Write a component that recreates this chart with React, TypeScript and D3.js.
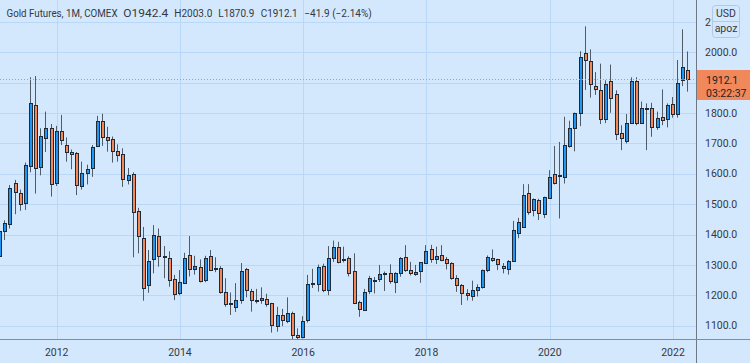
import { useEffect, useRef } from 'react'
import * as d3 from 'd3'

// monthly candles, first one is Feb 2011
const firstMonth = { year: 2011, month: 2 }

const opens = [
  1332, 1413, 1437, 1569, 1538, 1503, 1625, 1827, 1623, 1716, 1752,
  1571, 1741, 1694, 1672, 1667, 1561, 1602, 1618, 1692, 1774, 1720, 1714,
  1676, 1664, 1580, 1598, 1476, 1390, 1234, 1318, 1395, 1329, 1324, 1252,
  1206, 1243, 1331, 1285, 1292, 1252, 1329, 1287, 1291, 1212, 1173, 1160,
  1184, 1285, 1215, 1183, 1185, 1189, 1173, 1099, 1135, 1118, 1143, 1069,
  1063, 1118, 1239, 1236, 1296, 1217, 1324, 1358, 1314, 1322, 1280, 1177,
  1154, 1212, 1251, 1252, 1270, 1272, 1244, 1275, 1327, 1283, 1272, 1278,
  1305, 1351, 1318, 1333, 1318, 1305, 1256, 1234, 1206, 1198, 1217, 1228,
  1285, 1324, 1318, 1296, 1285, 1314, 1405, 1426, 1536, 1479, 1514, 1470,
  1519, 1598, 1594, 1588, 1692, 1750, 1799, 1998, 1971, 1889, 1876, 1780,
  1906, 1862, 1733, 1708, 1766, 1906, 1768, 1816, 1816, 1754, 1786, 1780,
  1829, 1799, 1909, 1942.4,
]
const highs = [
  1420, 1447, 1563, 1580, 1548, 1637, 1918, 1922, 1750, 1805, 1764,
  1758, 1794, 1720, 1680, 1672, 1640, 1630, 1695, 1791, 1798, 1755, 1723,
  1697, 1684, 1619, 1605, 1488, 1425, 1349, 1431, 1420, 1362, 1345, 1267,
  1283, 1340, 1395, 1330, 1318, 1330, 1349, 1325, 1296, 1256, 1209, 1240,
  1306, 1290, 1221, 1221, 1226, 1205, 1175, 1162, 1155, 1193, 1146, 1091,
  1131, 1267, 1287, 1301, 1304, 1362, 1380, 1376, 1360, 1328, 1338, 1182,
  1221, 1264, 1260, 1300, 1278, 1302, 1276, 1326, 1365, 1310, 1300, 1309,
  1365, 1366, 1360, 1365, 1326, 1309, 1266, 1237, 1220, 1248, 1236, 1285,
  1331, 1351, 1320, 1306, 1316, 1445, 1455, 1566, 1566, 1519, 1518, 1525,
  1612, 1692, 1705, 1788, 1775, 1802, 2004, 2086, 2010, 1935, 1963, 1908,
  1960, 1875, 1760, 1797, 1918, 1918, 1838, 1832, 1834, 1805, 1878, 1832,
  1853, 1975, 2076, 2003.0,
]
const lows = [
  1308, 1382, 1420, 1467, 1478, 1481, 1605, 1535, 1595, 1672, 1525,
  1560, 1695, 1640, 1615, 1530, 1548, 1565, 1590, 1688, 1692, 1673, 1637,
  1640, 1557, 1565, 1325, 1338, 1182, 1208, 1272, 1294, 1256, 1228, 1184,
  1200, 1238, 1262, 1268, 1242, 1243, 1280, 1276, 1205, 1162, 1135, 1145,
  1172, 1193, 1146, 1173, 1172, 1162, 1077, 1080, 1098, 1108, 1052, 1050,
  1058, 1110, 1224, 1212, 1210, 1200, 1310, 1305, 1308, 1262, 1171, 1129,
  1148, 1204, 1206, 1244, 1214, 1238, 1207, 1261, 1277, 1265, 1264, 1241,
  1303, 1307, 1303, 1312, 1285, 1251, 1211, 1168, 1183, 1182, 1196, 1222,
  1276, 1310, 1283, 1272, 1268, 1310, 1388, 1424, 1465, 1460, 1448, 1454,
  1518, 1565, 1453, 1568, 1686, 1674, 1757, 1876, 1851, 1860, 1764, 1767,
  1801, 1711, 1678, 1700, 1765, 1760, 1765, 1678, 1722, 1745, 1760, 1753,
  1785, 1785, 1889, 1870.9,
]
const closes = [
  1413, 1439, 1554, 1538, 1503, 1628, 1832, 1621, 1724, 1750, 1569,
  1741, 1711, 1670, 1664, 1563, 1604, 1616, 1687, 1774, 1720, 1711, 1676,
  1662, 1580, 1596, 1473, 1393, 1225, 1314, 1397, 1329, 1325, 1252, 1204,
  1243, 1324, 1285, 1296, 1247, 1324, 1283, 1289, 1212, 1173, 1176, 1184,
  1280, 1215, 1184, 1185, 1190, 1173, 1099, 1135, 1118, 1143, 1069, 1061,
  1116, 1236, 1236, 1292, 1217, 1322, 1360, 1310, 1318, 1274, 1175, 1154,
  1212, 1256, 1249, 1270, 1274, 1244, 1274, 1324, 1285, 1272, 1278, 1309,
  1346, 1318, 1329, 1318, 1305, 1256, 1234, 1206, 1198, 1217, 1226, 1283,
  1327, 1318, 1300, 1289, 1313, 1415, 1440, 1530, 1472, 1516, 1472, 1525,
  1588, 1569, 1597, 1695, 1752, 1799, 1984, 1976, 1895, 1878, 1780, 1895,
  1851, 1729, 1717, 1766, 1906, 1768, 1816, 1818, 1754, 1783, 1777, 1827,
  1796, 1900, 1953, 1912.1,
]

const yearTicks = [2012, 2014, 2016, 2018, 2020, 2022]
const priceTicks = [1100, 1200, 1300, 1400, 1500, 1600, 1700, 1800, 1900, 2000, 2100]

const title = 'Gold Futures, 1M, COMEX'
const change = '\u221241.9 (\u22122.14%)'
const countdown = '03:22:37'
const unitTop = 'USD'
const unitBottom = 'apoz'

const W = 750
const H = 363
const PLOT_R = 697
const PLOT_B = 340
const BADGE = { y: 70, h: 30 }
const UNIT_BOX = { x: 712.5, y: 5.5, w: 27, h: 32 }

const BG = '#d4e8fd'
const GRID = '#b9d8f8'
const UP = '#2196f3'
const DOWN = '#f58756'
const BORDER = '#1f2a36'
const WICK = '#4f5b67'
const TXT = '#333844'
const FONT = 'Roboto, "Noto Sans", sans-serif'

export default function App() {
  const svgRef = useRef<SVGSVGElement>(null)

  useEffect(() => {
    if (!svgRef.current) return
    const svg = d3.select(svgRef.current)
    svg.selectAll('*').remove()

    const candles = opens.map((o, i) => ({
      m: (firstMonth.year - 2012) * 12 + (firstMonth.month - 1) + i,
      o,
      h: highs[i],
      l: lows[i],
      c: closes[i],
    }))
    const last = candles[candles.length - 1]
    const fmt = d3.format('.1f')

    // months since Jan 2012
    const x = d3.scaleLinear().domain([0, 120]).range([56.7, 673])
    const y = d3.scaleLinear().domain([1100, 2000]).range([325.6, 52.4])

    svg.append('rect').attr('width', W).attr('height', H).attr('fill', BG)

    const defs = svg.append('defs')
    defs.append('clipPath').attr('id', 'plot')
      .append('rect').attr('width', PLOT_R).attr('height', PLOT_B)
    // price scale area minus the unit box, which hides the top label
    const sc = defs.append('clipPath').attr('id', 'scale')
    sc.append('rect')
      .attr('x', PLOT_R).attr('y', 0)
      .attr('width', UNIT_BOX.x - PLOT_R).attr('height', UNIT_BOX.y + UNIT_BOX.h)
    sc.append('rect')
      .attr('x', PLOT_R).attr('y', UNIT_BOX.y + UNIT_BOX.h)
      .attr('width', W - PLOT_R).attr('height', PLOT_B - UNIT_BOX.y - UNIT_BOX.h)

    const plot = svg.append('g').attr('clip-path', 'url(#plot)')

    plot.selectAll('.hgrid')
      .data(priceTicks)
      .enter()
      .append('line')
      .attr('x1', 0)
      .attr('x2', PLOT_R)
      .attr('y1', d => Math.round(y(d)) + 0.5)
      .attr('y2', d => Math.round(y(d)) + 0.5)
      .attr('stroke', GRID)

    plot.selectAll('.vgrid')
      .data(yearTicks)
      .enter()
      .append('line')
      .attr('x1', d => Math.round(x((d - 2012) * 12)) + 0.5)
      .attr('x2', d => Math.round(x((d - 2012) * 12)) + 0.5)
      .attr('y1', 0)
      .attr('y2', PLOT_B)
      .attr('stroke', GRID)

    const g = plot.selectAll('.candle')
      .data(candles)
      .enter()
      .append('g')

    g.append('line')
      .attr('x1', d => Math.round(x(d.m)) - 0.5)
      .attr('x2', d => Math.round(x(d.m)) - 0.5)
      .attr('y1', d => y(d.h))
      .attr('y2', d => y(d.l))
      .attr('stroke', WICK)
      .attr('stroke-width', 1)

    g.append('rect')
      .attr('x', d => Math.round(x(d.m)) - 1.5)
      .attr('width', 3)
      .attr('y', d => Math.round(y(Math.max(d.o, d.c))) + 0.5)
      .attr('height', d => Math.max(1, Math.round(Math.abs(y(d.o) - y(d.c)))))
      .attr('fill', d => (d.c >= d.o ? UP : DOWN))
      .attr('stroke', BORDER)
      .attr('stroke-width', 1)

    // last price line
    const py = Math.round(y(last.c)) + 0.5
    plot.append('line')
      .attr('x1', 0)
      .attr('x2', PLOT_R)
      .attr('y1', py)
      .attr('y2', py)
      .attr('stroke', DOWN)
      .attr('stroke-dasharray', '1,2')

    // axis borders
    svg.append('line')
      .attr('x1', PLOT_R - 0.5).attr('x2', PLOT_R - 0.5)
      .attr('y1', 0).attr('y2', H)
      .attr('stroke', '#6f7780')
    svg.append('line')
      .attr('x1', 0).attr('x2', W)
      .attr('y1', PLOT_B - 0.5).attr('y2', PLOT_B - 0.5)
      .attr('stroke', '#858c95')

    // labels under the last-price badge are not drawn
    const visibleTicks = priceTicks.filter(p => {
      const ty = y(p)
      return ty < BADGE.y - 5 || ty > BADGE.y + BADGE.h + 5
    })
    svg.append('g')
      .attr('clip-path', 'url(#scale)')
      .selectAll('text')
      .data(visibleTicks)
      .enter()
      .append('text')
      .attr('x', 705)
      .attr('y', d => y(d))
      .attr('dy', '0.35em')
      .attr('fill', TXT)
      .style('font', `10.5px ${FONT}`)
      .text(d => fmt(d))

    svg.selectAll('.xlabel')
      .data(yearTicks)
      .enter()
      .append('text')
      .attr('x', d => x((d - 2012) * 12))
      .attr('y', 356)
      .attr('text-anchor', 'middle')
      .attr('fill', TXT)
      .style('font', `10.5px ${FONT}`)
      .text(d => String(d))

    // unit box
    const ub = svg.append('g')
    ub.append('rect')
      .attr('x', UNIT_BOX.x).attr('y', UNIT_BOX.y)
      .attr('width', UNIT_BOX.w).attr('height', UNIT_BOX.h)
      .attr('rx', 3)
      .attr('fill', BG)
      .attr('stroke', '#b3c9df')
    ub.append('line')
      .attr('x1', UNIT_BOX.x).attr('x2', UNIT_BOX.x + UNIT_BOX.w)
      .attr('y1', 21.5).attr('y2', 21.5)
      .attr('stroke', '#b3c9df')
    ub.append('text')
      .attr('x', 726).attr('y', 17)
      .attr('text-anchor', 'middle')
      .attr('fill', TXT)
      .style('font', `10.5px ${FONT}`)
      .text(unitTop)
    ub.append('text')
      .attr('x', 726).attr('y', 31.5)
      .attr('text-anchor', 'middle')
      .attr('fill', TXT)
      .style('font', `10.5px ${FONT}`)
      .text(unitBottom)

    // last price badge
    svg.append('rect')
      .attr('x', PLOT_R).attr('y', BADGE.y)
      .attr('width', W - PLOT_R).attr('height', BADGE.h)
      .attr('fill', '#f0885c')
    svg.append('text')
      .attr('x', 706).attr('y', 84)
      .attr('fill', '#222')
      .style('font', `10.5px ${FONT}`)
      .text(fmt(last.c))
    svg.append('text')
      .attr('x', 706).attr('y', 96.5)
      .attr('fill', '#222')
      .style('font', `10.5px ${FONT}`)
      .text(countdown)

    // header
    const parts = [
      { x: 6.5, w: 111, t: title },
      { x: 123.3, w: 45, t: `O${fmt(last.o)}` },
      { x: 174.3, w: 38, t: `H${fmt(last.h)}` },
      { x: 218.3, w: 36, t: `L${fmt(last.l)}` },
      { x: 260.7, w: 37, t: `C${fmt(last.c)}` },
      { x: 304.3, w: 67.5, t: change },
    ]
    svg.selectAll('.hdr')
      .data(parts)
      .enter()
      .append('text')
      .attr('x', d => d.x)
      .attr('y', 16.5)
      .attr('textLength', d => d.w)
      .attr('lengthAdjust', 'spacingAndGlyphs')
      .attr('fill', TXT)
      .style('font', `10.5px ${FONT}`)
      .text(d => d.t)
  }, [])

  return (
    <div style={{ position: 'absolute', left: 0, top: 0 }}>
      <svg ref={svgRef} width={W} height={H} style={{ display: 'block' }} />
    </div>
  )
}
